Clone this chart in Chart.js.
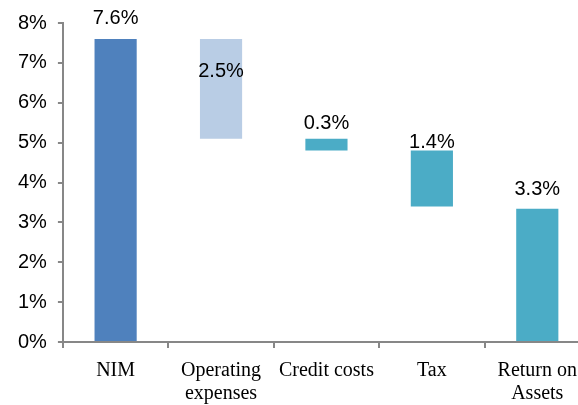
<!DOCTYPE html>
<html>
<head>
<meta charset="utf-8">
<script src="https://cdn.jsdelivr.net/npm/chart.js@4"></script>
<style>
  html, body { margin: 0; padding: 0; background: #fff; overflow: hidden; }
  .wrap { width: 590px; height: 416px; }
</style>
</head>
<body>
<div class="wrap"><canvas id="chart"></canvas></div>
<script>
const categories = ['NIM', ['Operating', 'expenses'], 'Credit costs', 'Tax', ['Return on', 'Assets']]
const barBottoms = [0, 5.1, 4.8, 3.4, 0]
const barTops = [7.6, 7.6, 5.1, 4.8, 3.34]
const barLabels = [7.6, 2.5, 0.3, 1.4, 3.3]
const barColors = ['#4f81bd', '#b9cde5', '#4bacc6', '#4bacc6', '#4bacc6']

// pixel shift of each value label above the bar top (negative = inside the bar)
const labelShift = [20, -33, 15, 8, 19]

const valueLabels = {
  id: 'valueLabels',
  afterDatasetsDraw(chart) {
    const ctx = chart.ctx
    const meta = chart.getDatasetMeta(0)
    ctx.save()
    ctx.font = '20px "Liberation Sans", Arial, sans-serif'
    ctx.fillStyle = '#000'
    ctx.textAlign = 'center'
    ctx.textBaseline = 'middle'
    meta.data.forEach((bar, i) => {
      ctx.fillText(barLabels[i].toFixed(1) + '%', bar.x, bar.y - labelShift[i])
    })
    ctx.restore()
  },
}

new Chart(document.getElementById('chart'), {
  type: 'bar',
  data: {
    labels: categories,
    datasets: [
      {
        data: barBottoms.map((b, i) => [b, barTops[i]]),
        backgroundColor: barColors,
        barPercentage: 0.4,
        categoryPercentage: 1,
      },
    ],
  },
  options: {
    responsive: true,
    maintainAspectRatio: false,
    animation: false,
    layout: { padding: { left: 7, top: 21, right: 0, bottom: 0 } },
    plugins: {
      legend: { display: false },
      tooltip: { enabled: false },
    },
    scales: {
      x: {
        offset: true,
        grid: {
          offset: true,
          drawOnChartArea: false,
          color: '#878787',
          lineWidth: 2,
          tickLength: 6,
        },
        border: { color: '#878787', width: 2 },
        ticks: {
          color: '#000',
          padding: 11,
          maxRotation: 0,
          autoSkip: false,
          font: { family: '"Liberation Serif", "Times New Roman", serif', size: 20, lineHeight: 1.15 },
        },
      },
      y: {
        min: 0,
        max: 8,
        grid: {
          drawOnChartArea: false,
          color: '#878787',
          lineWidth: 2,
          tickLength: 5,
        },
        border: { color: '#878787', width: 2 },
        ticks: {
          stepSize: 1,
          color: '#000',
          padding: 11,
          font: { family: '"Liberation Sans", Arial, sans-serif', size: 20 },
          callback: (v) => v + '%',
        },
      },
    },
  },
  plugins: [valueLabels],
})
</script>
</body>
</html>
